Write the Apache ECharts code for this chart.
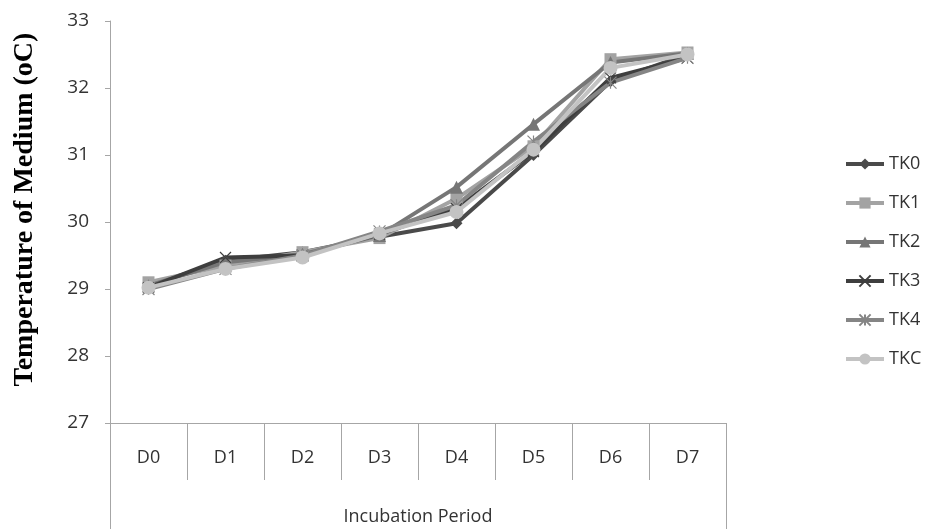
<!DOCTYPE html>
<html>
<head>
<meta charset="utf-8">
<script src="https://cdn.jsdelivr.net/npm/echarts@6/dist/echarts.min.js"></script>
<style>
html,body{margin:0;padding:0;background:#fff;}
#chart{width:925px;height:531px;}
</style>
</head>
<body>
<div id="chart"></div>
<script>
var categories = ['D0','D1','D2','D3','D4','D5','D6','D7'];
var yTicks = [27, 28, 29, 30, 31, 32, 33];
var seriesNames = ['TK0','TK1','TK2','TK3','TK4','TKC'];
var TK0 = [29.05, 29.42, 29.55, 29.78, 29.98, 31.0, 32.1, 32.5];
var TK1 = [29.1, 29.35, 29.55, 29.76, 30.35, 31.13, 32.43, 32.53];
var TK2 = [29.05, 29.4, 29.52, 29.8, 30.52, 31.46, 32.38, 32.52];
var TK3 = [29.02, 29.47, 29.5, 29.82, 30.2, 31.05, 32.15, 32.45];
var TK4 = [29.0, 29.3, 29.5, 29.86, 30.25, 31.2, 32.08, 32.45];
var TKC = [29.02, 29.3, 29.47, 29.83, 30.15, 31.08, 32.3, 32.5];

var X_PATH = 'path://M0,0L10,10M10,0L0,10';
var STAR_PATH = 'path://M5,0L5,10M0,0L10,10M10,0L0,10';

function mk(name, data, color, symbol, size, hollow) {
  return {
    name: name, type: 'line', data: data,
    symbol: symbol, symbolSize: size,
    lineStyle: { color: color, width: 4 },
    itemStyle: hollow ? { color: 'rgba(0,0,0,0)', borderColor: color, borderWidth: 1.2 } : { color: color },
    emphasis: { disabled: true },
    animation: false
  };
}

var chart = echarts.init(document.getElementById('chart'), null, { renderer: 'canvas' });
var opt = {
  animation: false,
  backgroundColor: '#ffffff',
  grid: { left: 110, right: 199, top: 21, bottom: 106, containLabel: false },
  legend: {
    orient: 'vertical', left: 839, top: 150,
    itemWidth: 38, itemHeight: 14, itemGap: 21,
    lineStyle: { width: 4 },
    textStyle: { fontFamily: 'Open Sans', fontSize: 18, color: '#333' },
    data: seriesNames
  },
  xAxis: [{
    type: 'category', data: categories, boundaryGap: true,
    axisLine: { show: true, lineStyle: { color: '#a6a6a6', width: 1 } },
    axisTick: { show: true, interval: 0, length: 57, lineStyle: { color: '#a6a6a6' } },
    axisLabel: { interval: 0, margin: 26, fontFamily: 'Open Sans', fontSize: 18, color: '#333' },
    name: 'Incubation Period', nameLocation: 'middle', nameGap: 85,
    nameTextStyle: { fontFamily: 'Open Sans', fontSize: 18, color: '#333' }
  }, {
    type: 'value', position: 'bottom', min: 0, max: 8, interval: 8,
    axisLine: { show: false },
    axisTick: { show: true, length: 106, lineStyle: { color: '#a6a6a6' } },
    axisLabel: { show: false }, splitLine: { show: false }
  }],
  yAxis: {
    type: 'value', min: yTicks[0], max: yTicks[yTicks.length - 1], interval: 1,
    axisLine: { show: true, lineStyle: { color: '#a6a6a6', width: 1 } },
    axisTick: { show: true, length: 5, lineStyle: { color: '#a6a6a6' } },
    axisLabel: { margin: 21, fontFamily: 'Open Sans', fontSize: 19, color: '#333' },
    splitLine: { show: false },
    name: 'Temperature of Medium (oC)', nameLocation: 'middle', nameGap: 71,
    nameTextStyle: { fontFamily: 'Liberation Serif', fontWeight: 'bold', fontSize: 28, color: '#000', padding: [0, 0, 0, 25] }
  },
  series: [
    mk('TK0', TK0, '#4a4a4a', 'diamond', 12, false),
    mk('TK1', TK1, '#a3a3a3', 'rect', 12, false),
    mk('TK2', TK2, '#767676', 'triangle', 13, false),
    mk('TK3', TK3, '#3e3e3e', X_PATH, 11, true),
    mk('TK4', TK4, '#858585', STAR_PATH, 12, true),
    mk('TKC', TKC, '#c3c3c3', 'circle', 14, false)
  ]
};
chart.setOption(opt);
</script>
</body>
</html>
